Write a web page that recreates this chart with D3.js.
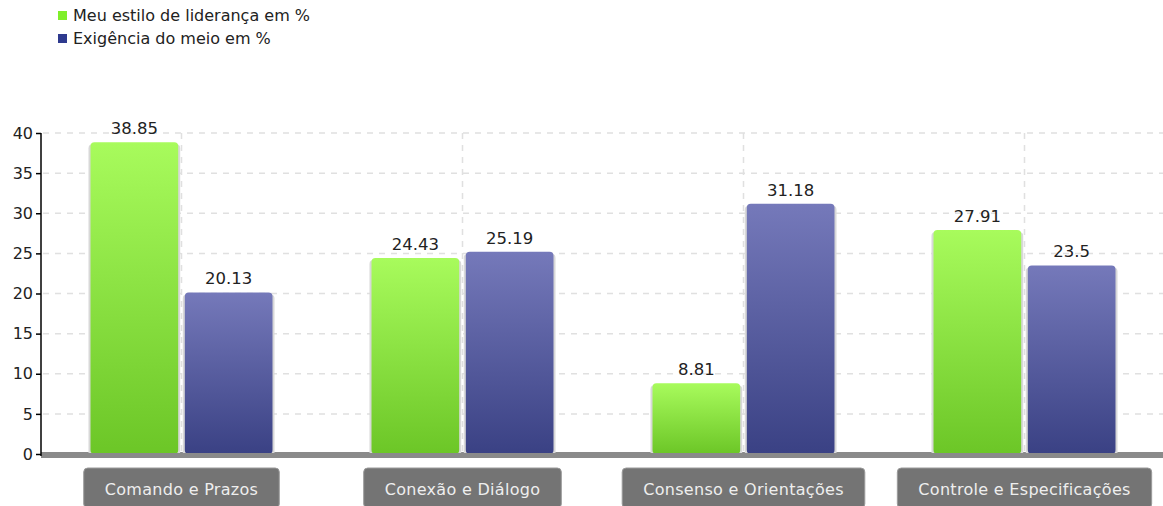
<!DOCTYPE html>
<html><head><meta charset="utf-8">
<script src="https://cdn.jsdelivr.net/npm/d3@7"></script>
<style>body{margin:0;background:#fff}svg{display:block;font-family:"DejaVu Sans",Verdana,sans-serif}</style>
</head><body>
<svg id="c" width="1163" height="506"></svg>
<script>
const categories = ["Comando e Prazos","Conexão e Diálogo","Consenso e Orientações","Controle e Especificações"];
const seriesNames = ["Meu estilo de liderança em %","Exigência do meio em %"];
const lideranca = [38.85,24.43,8.81,27.91];
const exigencia = [20.13,25.19,31.18,23.5];
const yTicks = [0,5,10,15,20,25,30,35,40];

(function(){
const svg = d3.select("#c");
const W=1163, H=506;
const pL=41, pR=1165, pT=133, pB=454;

const defs = svg.append("defs");
const gG = defs.append("linearGradient").attr("id","gG").attr("x1",0).attr("y1",0).attr("x2",0).attr("y2",1);
gG.append("stop").attr("offset","0%").attr("stop-color","#a8fb5c");
gG.append("stop").attr("offset","100%").attr("stop-color","#6cc627");
const gB = defs.append("linearGradient").attr("id","gB").attr("x1",0).attr("y1",0).attr("x2",0).attr("y2",1);
gB.append("stop").attr("offset","0%").attr("stop-color","#7579ba");
gB.append("stop").attr("offset","100%").attr("stop-color","#3a4184");
const fills=["url(#gG)","url(#gB)"];
const legendColors=["#7fef2a","#2e3a8e"];

const y = d3.scaleLinear().domain([0,40]).range([pB,pT]);
const x0 = d3.scaleBand().domain(categories).range([pL,pR]);
const x1 = d3.scaleBand().domain([0,1]).range([-91,91]).paddingInner(0.07);

svg.append("g").selectAll("line").data(yTicks.filter(d=>d>0)).join("line")
  .attr("x1",pL+2).attr("x2",W).attr("y1",d=>y(d)).attr("y2",d=>y(d))
  .attr("stroke","#e0e0e0").attr("stroke-width",1.5).attr("stroke-dasharray","6,6");
svg.append("g").selectAll("line").data(categories).join("line")
  .attr("x1",d=>x0(d)+x0.bandwidth()/2).attr("x2",d=>x0(d)+x0.bandwidth()/2)
  .attr("y1",pT).attr("y2",pB)
  .attr("stroke","#e0e0e0").attr("stroke-width",1.5).attr("stroke-dasharray","6,6");

svg.append("rect").attr("x",pL).attr("y",pB-2).attr("width",W-pL).attr("height",6).attr("fill","#8a8a8a");

const data = categories.map((c,i)=>({c, vals:[lideranca[i],exigencia[i]]}));
const g = svg.append("g").selectAll("g").data(data).join("g")
  .attr("transform",d=>`translate(${x0(d.c)+x0.bandwidth()/2},0)`);
g.selectAll("rect.shadow").data(d=>d.vals).join("rect").attr("class","shadow")
  .attr("x",(d,i)=>x1(i)-2).attr("width",x1.bandwidth()+4)
  .attr("y",d=>y(d)+2).attr("height",d=>pB-y(d)+2).attr("rx",4)
  .attr("fill","#d8d8d8");
g.selectAll("rect.bar").data(d=>d.vals).join("rect").attr("class","bar")
  .attr("x",(d,i)=>x1(i)).attr("width",x1.bandwidth())
  .attr("y",d=>y(d)).attr("height",d=>pB-y(d)).attr("rx",4)
  .attr("fill",(d,i)=>fills[i]);
g.selectAll("text").data(d=>d.vals).join("text")
  .attr("x",(d,i)=>x1(i)+x1.bandwidth()/2).attr("y",d=>y(d)-8)
  .attr("text-anchor","middle").attr("font-size",16.5).attr("fill","#222")
  .text(d=>d);

svg.append("rect").attr("x",pL).attr("y",pB-1).attr("width",W-pL).attr("height",5).attr("fill","#8a8a8a");

const yAxis = svg.append("g").attr("transform",`translate(${pL},0)`)
  .call(d3.axisLeft(y).tickValues(yTicks).tickSize(5).tickPadding(3));
yAxis.select(".domain").attr("stroke","#000").attr("stroke-width",1.5).attr("d",`M0,${pT}V${pB+2}`);
yAxis.selectAll(".tick line").attr("stroke","#000").attr("stroke-width",1.5);
yAxis.selectAll(".tick text").attr("font-size",16).attr("fill","#222").attr("font-family","DejaVu Sans, sans-serif");

const lab = svg.append("g").selectAll("g").data(categories).join("g")
  .attr("transform",d=>`translate(${x0(d)+x0.bandwidth()/2},0)`);
const texts = lab.append("text").attr("y",495).attr("text-anchor","middle")
  .attr("font-size",16).attr("letter-spacing",0.3).attr("fill","#eeeeee").text(d=>d);
texts.each(function(){
  const w=this.getComputedTextLength();
  d3.select(this.parentNode).insert("rect","text")
    .attr("x",-w/2-21).attr("y",468).attr("width",w+42).attr("height",40).attr("rx",4)
    .attr("fill","#747474").attr("stroke","#9a9a9a").attr("stroke-width",1);
});

const leg = svg.append("g").selectAll("g").data(seriesNames).join("g")
  .attr("transform",(d,i)=>`translate(58,${11+i*23})`);
leg.append("rect").attr("width",9).attr("height",9).attr("y",0).attr("fill",(d,i)=>legendColors[i]);
leg.append("text").attr("x",15).attr("y",10).attr("font-size",16).attr("fill","#222").text(d=>d);
})();
</script>
</body></html>
